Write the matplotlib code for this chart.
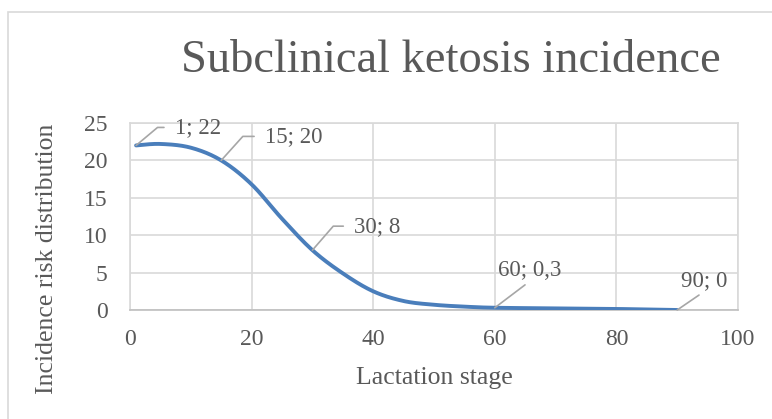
import numpy as np
import matplotlib
matplotlib.use("Agg")
import matplotlib.pyplot as plt
from matplotlib.patches import Rectangle

# ---- data ----
days = [1, 5, 10, 15, 20, 25, 30, 35, 40, 45, 50, 55, 60, 70, 80, 90]
risk = [22, 22.2, 21.7, 20, 16.8, 12.2, 8, 4.9, 2.5, 1.2, 0.7, 0.45, 0.3, 0.22, 0.14, 0]
label_days = [1, 15, 30, 60, 90]
label_texts = ["1; 22", "15; 20", "30; 8", "60; 0,3", "90; 0"]
x_ticks = [0, 20, 40, 60, 80, 100]
y_ticks = [0, 5, 10, 15, 20, 25]
title = "Subclinical ketosis incidence"
x_label = "Lactation stage"
y_label = "Incidence risk distribution"

TXT = "#595959"
GRID = "#d9d9d9"
LINE = "#4a7ebb"
FONT = ["Liberation Serif", "DejaVu Serif"]
plt.rcParams["font.family"] = FONT


def catmull_rom(xs, ys, n=40):
    p = np.column_stack([xs, ys]).astype(float)
    pts = np.vstack([p[0], p, p[-1]])
    out = []
    t = np.linspace(0, 1, n)[:, None]
    for i in range(1, len(pts) - 2):
        p0, p1, p2, p3 = pts[i - 1], pts[i], pts[i + 1], pts[i + 2]
        c1 = p1 + (p2 - p0) / 6.0
        c2 = p2 - (p3 - p1) / 6.0
        seg = ((1 - t) ** 3) * p1 + 3 * ((1 - t) ** 2) * t * c1 + 3 * (1 - t) * t ** 2 * c2 + t ** 3 * p2
        out.append(seg if i == 1 else seg[1:])
    s = np.vstack(out)
    return s[:, 0], s[:, 1]


W, H = 772, 419
fig = plt.figure(figsize=(W / 100, H / 100), dpi=100)
fig.patch.set_facecolor("white")

# chart border
fig.patches.append(Rectangle((8 / W, -0.1), 1.2, (H - 12) / H + 0.1, transform=fig.transFigure,
                             fill=False, edgecolor=GRID, linewidth=1.2))

L, R, T, B = 130, 738, 123, 310
ax = fig.add_axes([L / W, 1 - B / H, (R - L) / W, (B - T) / H])

sx, sy = catmull_rom(days, risk)
ax.plot(sx, sy, color=LINE, linewidth=2.8, solid_capstyle="round", zorder=3)

ax.set_xlim(0, 100)
ax.set_ylim(0, 25)
ax.set_xticks(x_ticks)
ax.set_yticks(y_ticks)
ax.grid(True, color=GRID, linewidth=1.2)
ax.set_axisbelow(True)
for s in ax.spines.values():
    s.set_color(GRID)
    s.set_linewidth(1.2)
ax.spines["bottom"].set_color("#bfbfbf")
ax.tick_params(length=0, labelsize=17, labelcolor=TXT)
ax.tick_params(axis="y", pad=16)
ax.tick_params(axis="x", pad=14)

ax.set_xlabel(x_label, fontsize=18.5, color=TXT)
ax.xaxis.set_label_coords(0.5, (B - 378) / (B - T), transform=ax.transAxes)
ax.set_ylabel(y_label, fontsize=18.5, color=TXT)
ax.yaxis.set_label_coords((47 - L) / (R - L), (B - 259) / (B - T), transform=ax.transAxes)
ax.xaxis.label.set_va("center")
ax.yaxis.label.set_va("center")
fig.text(451 / W, 1 - 61 / H, title, fontsize=33.5, color=TXT, ha="center", va="center")

# data labels with leader lines (offsets in pixels)
offsets = {1: (39, 18, 40), 15: (44, 24, 48), 30: (42, 24, 49)}
for d, txt in zip(label_days, label_texts):
    yv = risk[days.index(d)]
    if d in offsets:
        dx, dy, ang = offsets[d]
        ax.annotate(txt, xy=(d, yv), xytext=(dx, dy), textcoords="offset pixels",
                    fontsize=16.5, color=TXT, ha="left", va="center",
                    arrowprops=dict(arrowstyle="-", color="#a6a6a6", lw=1.2,
                                    connectionstyle=f"angle,angleA=0,angleB={ang},rad=0",
                                    relpos=(0, 0.5), shrinkA=6, shrinkB=0))
    else:
        dx, dy = (35, 37) if d == 60 else (27, 29)
        ax.annotate(txt, xy=(d, yv), xytext=(dx, dy), textcoords="offset pixels",
                    fontsize=16.5, color=TXT, ha="center", va="center",
                    arrowprops=dict(arrowstyle="-", color="#a6a6a6", lw=1.2,
                                    relpos=(0.5, 0), shrinkA=1, shrinkB=0))

fig.savefig("out.png", dpi=100)
